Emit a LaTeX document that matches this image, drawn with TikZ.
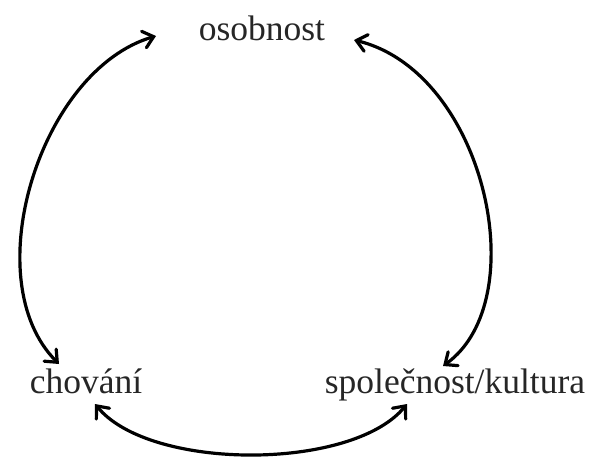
\documentclass[tikz,border=0pt]{standalone}
\usepackage{fontspec}
\setmainfont{Liberation Serif}
\usetikzlibrary{arrows.meta}
\begin{document}
\begin{tikzpicture}[x=1pt,y=-1pt,
  lbl/.style={font=\fontsize{35.5}{40}\selectfont, inner sep=0pt, anchor=base, text=black!85},
  link/.style={line width=3.2pt, line cap=round, {Straight Barb[length=10pt,width=17pt,line cap=round]}-{Straight Barb[length=10pt,width=17pt,line cap=round]}}]
\useasboundingbox (0,0) rectangle (592,458);
\node[lbl] (o) at (262,40) {osobnost};
\node[lbl] (c) at (86,393) {chování};
\node[lbl] (s) at (455,393) {společnost/kultura};
\coordinate (o1) at (156,36);
\coordinate (o2) at (354,40);
\coordinate (c1) at (59,364);
\coordinate (c2) at (95,404);
\coordinate (s1) at (443,366);
\coordinate (s2) at (407,404);
\draw[link] (o1) .. controls (40,70) and (-25,280) .. (c1);
\draw[link] (o2) .. controls (485,72) and (535,300) .. (s1);
\draw[link] (c2) .. controls (150,471) and (352,471) .. (s2);
\end{tikzpicture}
\end{document}
